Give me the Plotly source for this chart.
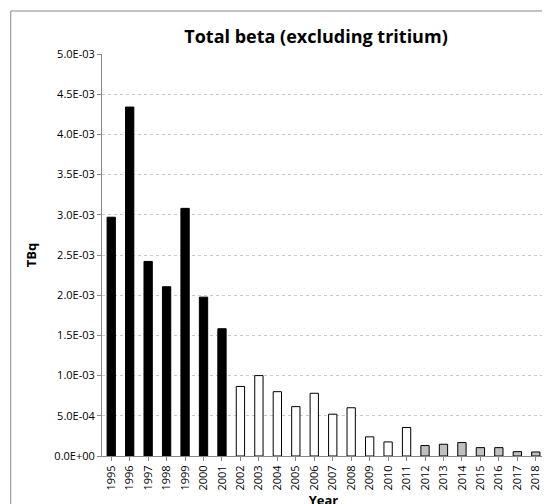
import plotly.graph_objects as go

years = [str(y) for y in range(1995, 2019)]
values = [2.97e-3, 4.34e-3, 2.42e-3, 2.105e-3, 3.08e-3, 1.976e-3, 1.583e-3,
          0.865e-3, 1.0e-3, 0.80e-3, 0.614e-3, 0.78e-3, 0.52e-3, 0.60e-3,
          0.238e-3, 0.175e-3, 0.355e-3, 0.13e-3, 0.146e-3, 0.167e-3,
          0.104e-3, 0.104e-3, 0.054e-3, 0.05e-3]
colors = ["black"] * 7 + ["white"] * 10 + ["#c0c0c0"] * 7
tick_vals = [i * 5e-4 for i in range(11)]

def sci(v):
    if v == 0:
        return "0.0E+00"
    s = "%.1E" % v
    m, e = s.split("E")
    return m + "E" + e[0] + e[1:].zfill(2)

tick_text = [sci(v) for v in tick_vals]

fig = go.Figure(go.Bar(x=years, y=values, marker=dict(color=colors, line=dict(color="black", width=1)), width=0.45))
fig.update_layout(
    width=550, height=504, paper_bgcolor="white", plot_bgcolor="white",
    margin=dict(l=94, r=13, t=46, b=56, autoexpand=False),
    title=dict(text="<b>Total beta (excluding tritium)</b>", x=0.56, y=0.955, xanchor="center",
               font=dict(family="Open Sans", size=18, color="black")),
    font=dict(family="Open Sans", size=11, color="black"),
    bargap=0.5, showlegend=False,
    shapes=[dict(type="rect", xref="paper", yref="paper", x0=-0.206, x1=1.021, y0=-0.127, y1=1.107,
                 line=dict(color="#888", width=1), layer="below")],
)
fig.update_xaxes(type="category", tickangle=-90, showline=True, linecolor="#888", ticks="outside",
                 ticklen=4, tickcolor="#888", automargin=False,
                 title=dict(text="<b>Year</b>", font=dict(size=13), standoff=2),
                 tickfont=dict(size=11))
fig.update_yaxes(range=[0, 5e-3], tickvals=tick_vals, ticktext=tick_text, showline=True, linecolor="#888",
                 ticks="outside", ticklen=4, tickcolor="#888", gridcolor="#c8c8c8", griddash="dot",
                 automargin=False,
                 title=dict(text="<b>TBq</b>", font=dict(size=13), standoff=14), tickfont=dict(size=11))
fig.write_html("out.html")
